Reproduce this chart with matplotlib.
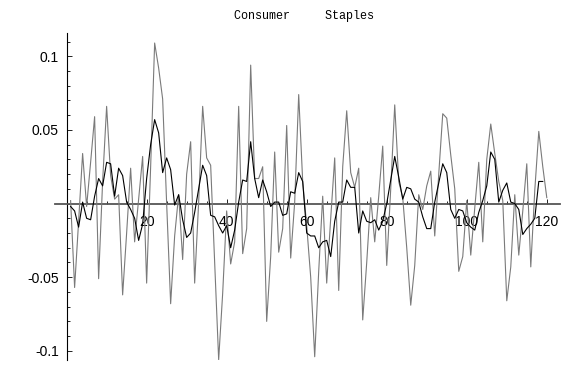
import numpy as np
import matplotlib.pyplot as plt
from matplotlib.ticker import FixedLocator, MultipleLocator

# gray (more volatile) series, t = 1..120
gray_vals = [
    0.002, -0.057, -0.012, 0.034, -0.002, 0.028, 0.059, -0.051, 0.015, 0.066,
    0.019, 0.003, 0.006, -0.062, -0.020, 0.024, -0.026, 0.003, 0.032, -0.054,
    0.025, 0.109, 0.092, 0.071, 0.000, -0.068, -0.022, 0.006, -0.038, 0.020,
    0.042, -0.054, 0.001, 0.066, 0.031, 0.026, -0.040, -0.106, -0.061, -0.005,
    -0.041, -0.026, 0.066, -0.034, -0.017, 0.094, 0.017, 0.017, 0.025, -0.080,
    -0.036, 0.035, -0.033, -0.017, 0.053, -0.037, 0.001, 0.074, 0.015, -0.015,
    -0.050, -0.104, -0.046, 0.005, -0.054, -0.010, 0.031, -0.059, 0.025, 0.063,
    0.021, 0.011, 0.024, -0.079, -0.040, 0.004, -0.026, 0.005, 0.039, -0.042,
    0.010, 0.067, 0.015, 0.004, -0.030, -0.069, -0.042, 0.006, -0.004, 0.012,
    0.022, -0.022, 0.020, 0.061, 0.058, 0.033, 0.010, -0.046, -0.036, 0.002,
    -0.035, -0.003, 0.028, -0.026, 0.030, 0.054, 0.034, 0.015, 0.002, -0.066,
    -0.043, 0.006, -0.035, -0.005, 0.027, -0.043, 0.009, 0.049, 0.025, 0.004,
]

# black (smoother) series
black_vals = [
    -0.002, -0.005, -0.016, 0.001, -0.010, -0.011, 0.005, 0.017, 0.012, 0.028,
    0.027, 0.005, 0.024, 0.019, 0.001, -0.004, -0.010, -0.025, -0.014, 0.017,
    0.040, 0.057, 0.048, 0.021, 0.031, 0.023, -0.001, 0.006, -0.011, -0.023,
    -0.020, -0.006, 0.010, 0.026, 0.019, -0.008, -0.009, -0.015, -0.020, -0.015,
    -0.030, -0.018, 0.001, 0.016, 0.015, 0.042, 0.017, 0.004, 0.016, 0.008,
    -0.002, 0.001, 0.001, -0.008, -0.007, 0.008, 0.007, 0.021, 0.015, -0.020,
    -0.022, -0.022, -0.030, -0.026, -0.025, -0.036, -0.012, 0.001, 0.001, 0.016,
    0.011, 0.011, -0.020, -0.005, -0.012, -0.013, -0.011, -0.018, -0.012, 0.000,
    0.016, 0.032, 0.018, 0.003, 0.011, 0.010, 0.003, 0.001, -0.009, -0.017,
    -0.017, 0.001, 0.014, 0.027, 0.021, -0.004, -0.010, -0.004, -0.005, -0.013,
    -0.016, -0.018, -0.006, 0.002, 0.012, 0.035, 0.030, 0.001, 0.009, 0.014,
    0.001, 0.000, -0.004, -0.021, -0.017, -0.014, -0.010, 0.015, 0.015,
]

x_ticks = [20, 40, 60, 80, 100, 120]
y_ticks = [-0.1, -0.05, 0.05, 0.1]
y_labels = ["-0.1", "-0.05", "0.05", "0.1"]

t_gray = np.arange(1, len(gray_vals) + 1)
t_black = np.arange(1, len(black_vals) + 1)

fig = plt.figure(figsize=(5.76, 3.72), dpi=100)
ax = fig.add_axes([0.0955, 0.0323, 0.8767, 0.879])

ax.plot(t_gray, gray_vals, color="#7a7a7a", lw=0.8, zorder=3)
ax.plot(t_black, black_vals, color="black", lw=0.8, zorder=4)

ax.set_xlim(-2.9, 123.3)
ax.set_ylim(-0.1062, 0.1158)

# Mathematica-style crossing axes
for s in ["top", "right"]:
    ax.spines[s].set_visible(False)
ax.spines["left"].set_position(("data", 0))
ax.spines["bottom"].set_position(("data", 0))
ax.spines["left"].set_linewidth(0.8)
ax.spines["bottom"].set_color("#555555")
ax.spines["bottom"].set_linewidth(1.3)

ax.xaxis.set_major_locator(FixedLocator(x_ticks))
ax.xaxis.set_minor_locator(MultipleLocator(5))
ax.set_xticklabels([str(v) for v in x_ticks])
ax.yaxis.set_major_locator(FixedLocator(y_ticks))
ax.yaxis.set_minor_locator(MultipleLocator(0.01))
ax.set_yticklabels(y_labels)

ax.tick_params(which="both", direction="in", colors="black",
               labelsize=10, width=0.6)
ax.tick_params(which="major", length=3.5)
ax.tick_params(which="minor", length=2)
ax.tick_params(axis="x", pad=8)
ax.tick_params(axis="y", pad=5.5)
for lab in ax.get_xticklabels() + ax.get_yticklabels():
    lab.set_fontfamily("Liberation Sans")

fig.text(304 / 576, 1 - 19.5 / 372, "Consumer     Staples", ha="center",
         va="baseline", fontsize=8.5, family="Liberation Mono")

fig.savefig("out.png", dpi=100)
